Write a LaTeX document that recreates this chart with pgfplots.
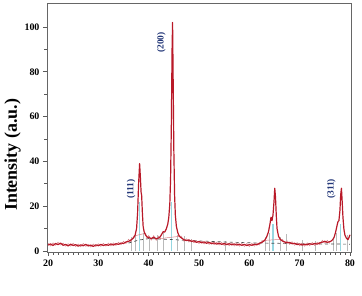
\documentclass[border=0pt]{standalone}
\usepackage{fontspec}
\setmainfont{Liberation Serif}
\usepackage{pgfplots}
\pgfplotsset{compat=1.18}
\definecolor{xrdred}{RGB}{185,25,40}
\definecolor{lblblue}{RGB}{35,55,120}
\definecolor{stick}{RGB}{150,215,225}
\begin{document}
\begin{tikzpicture}
\useasboundingbox (-47bp,-44bp) rectangle (315bp,252bp);
\begin{axis}[
  scale only axis,
  width=304bp, height=249bp,
  xmin=19.8, xmax=80.2, ymin=-0.5, ymax=110.7,
  xtick={20,30,...,80}, ytick={0,20,...,100},
  minor x tick num=9, minor y tick num=1,
  tick align=outside, tick pos=left,
  major tick length=4bp, minor tick length=2.5bp,
  axis line style={gray!80!black, line width=0.6pt},
  every tick/.style={gray!70!black, line width=0.5pt},
  ticklabel style={font=\bfseries\fontsize{10}{12}\selectfont},
  /pgf/number format/assume math mode=true,
  ylabel={\bfseries Intensity (a.u.)},
  ylabel style={font=\fontsize{18}{20}\selectfont, at={(ticklabel cs:0.39)}, yshift=-3bp},
  clip=true,
]
% reference sticks (grey)
\addplot[ycomb, gray!55, line width=0.4pt, forget plot] coordinates {
(36.6,6) (37.3,7) (38.9,8) (40.1,6.5) (41.6,7) (42.9,9) (45.6,7) (47.1,6.5) (48.4,5.5) (55.2,4.5) (63.1,6) (63.9,8) (66.1,6) (67.4,7.5) (70.6,5) (73.1,4.5) (76.6,6) (77.2,8) (79.4,7)};
% reference sticks (cyan)
\addplot[ycomb, stick, line width=1.2pt, forget plot] coordinates {
(38.25,22) (44.55,22) (64.7,12) (78.1,12)};
% background
\addplot[dashed, gray!60!black, line width=0.7pt] coordinates {
(36,3.5) (38,4.8) (40,5.5) (45,5) (50,4.4) (60,3.6) (70,3.2) (80,3)};
% noise band (lighter)
\addplot[xrdred!55, line width=0.5pt] coordinates {
(20,3.4) (20.5,2.2) (21,3.6) (21.5,2.5) (22,3.9) (22.5,2.6) (23,3.5) (23.5,2.1) (24,3.2) (24.5,2.1) (25,3.4) (25.5,1.9) (26,3.1) (26.5,1.8) (27,3.3) (27.5,2.0) (28,3.0) (28.5,1.7) (29,3.1) (29.5,1.9) (30,3.2) (30.5,2.0) (31,3.4) (31.5,2.1) (32,3.5) (32.5,2.2) (33,3.6) (33.5,2.4) (34,3.9) (34.5,2.7) (35,4.3) (35.5,3.3) (36,5.2) (36.5,4.1) (37,6.6)
(39.4,7.9) (39.7,5.4) (40,6.9) (40.5,4.8) (41,6.8) (41.5,4.7) (42,6.6) (42.3,5.5)
(46.5,6.6) (47,4.3) (47.5,5.4) (48,3.9) (48.5,5.0) (49,3.6) (49.5,4.6) (50,3.3) (50.5,4.4) (51,3.1) (51.5,4.3) (52,2.9) (52.5,4.0) (53,2.8) (53.5,3.9) (54,2.6) (54.5,3.8) (55,2.4) (55.5,3.7) (56,2.3) (56.5,3.6) (57,2.2) (57.5,3.5) (58,2.1) (58.5,3.4) (59,2.0) (59.5,3.3) (60,1.9) (60.5,3.4) (61,2.1) (61.5,3.6) (62,2.6) (62.5,4.6)
(66.6,5.2) (67,3.2) (67.5,4.5) (68,2.9) (68.5,4.1) (69,2.5) (69.5,3.7) (70,2.2) (70.5,3.5) (71,2.1) (71.5,3.6) (72,2.3) (72.5,3.8) (73,2.4) (73.5,3.9) (74,2.8) (74.5,4.7) (75,3.4) (75.5,4.7) (76,3.3)};
% pattern
\addplot[xrdred, line width=1.2pt, line join=round] coordinates {
(20,2.6) (20.5,3.1) (21,2.4) (21.5,3.3) (22,2.8) (22.5,3.5) (23,2.5) (23.5,2.9) (24,2.2) (24.5,3.0) (25,2.4) (25.5,2.8) (26,2.1) (26.5,2.7) (27,2.3) (27.5,2.9) (28,2.2) (28.5,2.6) (29,2.0) (29.5,2.7) (30,2.3) (30.5,2.9) (31,2.4) (31.5,2.8) (32,2.5) (32.5,3.1) (33,2.6) (33.5,3.2) (34,2.9) (34.5,3.5) (35,3.3) (35.5,4.0) (36,4.2) (36.5,4.9) (37,5.8) (37.3,7.0) (37.6,10) (37.8,17) (38.0,30) (38.2,39) (38.35,33) (38.5,26) (38.6,25) (38.75,17) (38.9,11) (39.1,8.5) (39.4,7) (39.7,6.2) (40,6.0) (40.5,5.5) (41,6.1) (41.5,5.4) (42,5.8) (42.3,6.3) (42.6,7.5) (42.9,8.6) (43.2,8.4) (43.5,9.8) (43.8,12) (44.0,15) (44.2,21) (44.35,32) (44.5,55) (44.65,90) (44.75,102) (44.85,80) (45.0,45) (45.15,25) (45.3,16) (45.5,11) (45.8,8) (46.1,6.5) (46.5,5.8) (47,5.0) (47.5,4.6) (48,4.9) (48.5,4.2) (49,4.5) (49.5,3.8) (50,4.2) (50.5,3.6) (51,4.0) (51.5,3.4) (52,3.8) (52.5,3.2) (53,3.6) (53.5,3.0) (54,3.5) (54.5,2.9) (55,3.3) (55.5,2.8) (56,3.2) (56.5,2.7) (57,3.1) (57.5,2.6) (58,3.0) (58.5,2.5) (59,2.9) (59.5,2.4) (60,2.8) (60.5,2.5) (61,3.0) (61.5,2.7) (62,3.4) (62.5,3.8) (63,4.6) (63.4,6.0) (63.8,8.5) (64.1,12) (64.3,15) (64.5,13.5) (64.7,16) (64.9,22) (65.05,28) (65.2,24) (65.35,16) (65.5,10) (65.8,6.5) (66.2,5.0) (66.6,4.4) (67,4.0) (67.5,3.6) (68,3.8) (68.5,3.2) (69,3.4) (69.5,2.8) (70,3.1) (70.5,2.6) (71,3.0) (71.5,2.7) (72,3.2) (72.5,2.9) (73,3.3) (73.5,3.0) (74,3.6) (74.5,3.9) (75,4.3) (75.5,3.8) (76,4.1) (76.4,4.6) (76.8,5.8) (77.1,8) (77.4,11) (77.6,13) (77.8,13.5) (78.0,18) (78.15,25) (78.3,28) (78.45,22) (78.6,15) (78.8,9.5) (79.0,7) (79.3,5.6) (79.6,5.0) (79.8,6.0) (80,7.2)};
\node[rotate=90, text=lblblue, font=\bfseries\fontsize{9.5}{10}\selectfont] at (axis cs:36.5,27.7) {(111)};
\node[rotate=90, text=lblblue, font=\bfseries\fontsize{9.5}{10}\selectfont] at (axis cs:42.5,93) {(200)};
\node[rotate=90, text=lblblue, font=\bfseries\fontsize{9.5}{10}\selectfont] at (axis cs:76.3,27.7) {(311)};
\end{axis}
\end{tikzpicture}
\end{document}
